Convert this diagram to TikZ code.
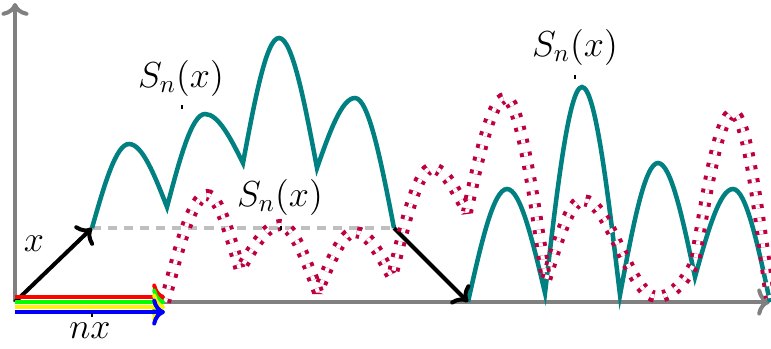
\documentclass[tikz,border=0pt]{standalone}
\usepackage{tikz}
\usetikzlibrary{arrows.meta,positioning}
% half arches of a |sin|-like bump, written with plain numbers
\newcommand{\riseto}[4]{.. controls ({#1+0.33*(#3-#1)},{#2+0.51*(#4-#2)}) and ({#1+0.65*(#3-#1)},#4) .. (#3,#4)}
\newcommand{\fallto}[4]{.. controls ({#1+0.35*(#3-#1)},#2) and ({#1+0.67*(#3-#1)},{#4+0.51*(#2-#4)}) .. (#3,#4)}
\tikzset{
  axis/.style={draw=gray, line width=1.6pt, -{To}},
  walk/.style={draw=teal, line width=1.8pt},
  shifted/.style={
    draw=purple, line width=1.6pt, double=white, double distance=1.6pt,
    dash pattern=on 1.6pt off 3.6pt, miter limit=2.5,
  },
  vec/.style={draw=#1, line width=1.6pt, -{To}},
  vec/.default=black,
  dashline/.style={draw=gray!50, line width=1.3pt, dash pattern=on 3.6pt off 2.8pt},
  lbl/.style={font=\Large, inner sep=0pt},
  tickline/.style={draw=black, line width=0.4pt},
}

\begin{document}
\begin{tikzpicture}[x=0.14mm,y=-0.14mm]
  \useasboundingbox (0,0) rectangle (771,349);

  \coordinate (O) at (15,302);
  \coordinate (N) at (165,302);
  \coordinate (X) at (92,228);
  \coordinate (E) at (394,228);
  \coordinate (F) at (468,302);
  \coordinate (ytop) at (15,3);
  \coordinate (xend) at (770,302);

  % axes
  \draw[axis] (O) -- (ytop);
  \draw[axis] (O) -- (xend);

  \draw[dashline] (X) -- (E);

  % S_n(x) started at x
  \draw[walk] (X) \riseto{92}{228}{129}{144} \fallto{129}{144}{167}{207}
    \riseto{167}{207}{205}{114} \fallto{205}{114}{243}{163}
    \riseto{243}{163}{279}{38} \fallto{279}{38}{317}{168}
    \riseto{317}{168}{355}{98} \fallto{355}{98}{394}{228};
  % S_n(x) started at the axis
  \draw[walk] (F) \riseto{468}{302}{507}{189} \fallto{507}{189}{545}{293}
    \riseto{545}{293}{582}{87} \fallto{582}{87}{620}{295}
    \riseto{620}{295}{658}{163} \fallto{658}{163}{695}{277}
    \riseto{695}{277}{733}{189} \fallto{733}{189}{770}{302};

  \draw[vec] (O) -- (X);
  \draw[vec] (E) -- (F);

  % shifted S_n(x)
  \draw[shifted] (N) \riseto{165}{302}{207}{195} \fallto{207}{195}{240}{270}
    \riseto{240}{270}{280}{225} \fallto{280}{225}{318}{292}
    \riseto{318}{292}{355}{232} \fallto{355}{232}{392}{277}
    \riseto{392}{277}{432}{168} \fallto{432}{168}{467}{212}
    \riseto{467}{212}{505}{98} \fallto{505}{98}{546}{280}
    \riseto{546}{280}{583}{200}
    .. controls (610,200) and (630,297) .. (657,297)
    .. controls (672,297) and (686,280) .. (695,262)
    \riseto{695}{262}{733}{113} \fallto{733}{113}{770}{298};

  % nx
  \draw[vec=red] ([yshift=2pt]O) -- ([yshift=2pt]N);
  \draw[vec=green] (O) -- (N);
  \draw[vec=yellow] ([yshift=-2pt]O) -- ([yshift=-2pt]N);
  \draw[vec=blue] ([yshift=-4pt]O) -- ([yshift=-4pt]N);

  % labels
  \node[lbl] (xlbl) at (34,244) {$x$};
  \coordinate (t0) at (92,313);
  \draw[tickline] (t0) -- ++(0,4);
  \node[lbl] (nxlbl) at (90,331) {$nx$};

  \coordinate (t1) at (182,105);
  \draw[tickline] (t1) -- ++(0,4);
  \node[lbl] (s1) at (181,78) {$S_n(x)$};
  \coordinate (t2) at (281,226);
  \draw[tickline] (t2) -- ++(0,4);
  \node[lbl] (s2) at (280,197) {$S_n(x)$};
  \coordinate (t3) at (575,75);
  \draw[tickline] (t3) -- ++(0,4);
  \node[lbl] (s3) at (575,47) {$S_n(x)$};
\end{tikzpicture}
\end{document}
